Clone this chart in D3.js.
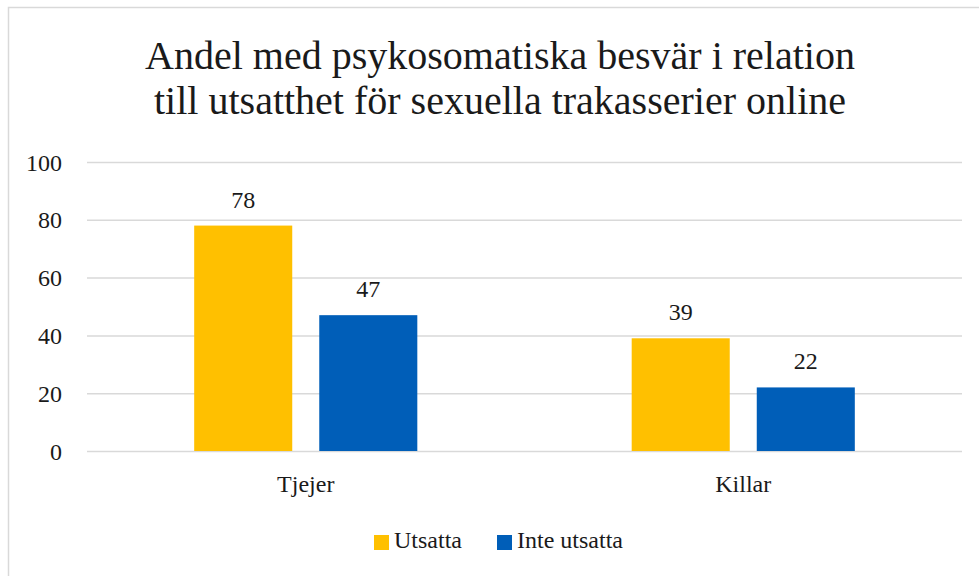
<!DOCTYPE html>
<html lang="sv">
<head>
<meta charset="utf-8">
<script src="https://cdn.jsdelivr.net/npm/d3@7"></script>
</head>
<body style="margin:0">
<div id="chart"></div>
<script>
const categories = ["Tjejer", "Killar"]
const series = ["Utsatta", "Inte utsatta"]
const utsatta = [78, 39]
const inteUtsatta = [47, 22]
const yTicks = [0, 20, 40, 60, 80, 100]
const titleLines = ["Andel med psykosomatiska besvär i relation", "till utsatthet för sexuella trakasserier online"]
const colors = ["#FFC000", "#005EB8"]

const FONT = "'Liberation Serif', Tinos, 'Times New Roman', serif"
const INK = "#1a1a1a"

const params = {
	width: 979,
	height: 576,
	left: 87,
	right: 962,
	top: 162,
	bottom: 451
}

const values = [utsatta, inteUtsatta]

const svg = d3.select("#chart")
	.append("svg")
	.attr("width", params.width)
	.attr("height", params.height)
	.attr("font-family", FONT)

// set font on a text selection
const serif = (sel, size) => sel
	.attr("font-family", FONT)
	.attr("font-size", size)
	.attr("fill", INK)

// outer frame, like the office chart area
svg.append("rect")
	.attr("x", 8.5)
	.attr("y", 7.5)
	.attr("width", 1000)
	.attr("height", 600)
	.attr("fill", "none")
	.attr("stroke", "#d9d9d9")
	.attr("stroke-width", 1.5)

svg.selectAll(".title")
	.data(titleLines)
	.join("text")
	.attr("class", "title")
	.attr("x", 500)
	.attr("y", (d, i) => 69 + i * 45)
	.attr("text-anchor", "middle")
	.call(serif, 40)
	.text(d => d)

const x0 = d3.scaleBand()
	.domain(categories)
	.range([params.left, params.right])
	.paddingInner(0.49)
	.paddingOuter(0.245)

const x1 = d3.scaleBand()
	.domain(series)
	.range([0, x0.bandwidth()])
	.paddingInner(0.216)

const y = d3.scaleLinear()
	.domain([0, 100])
	.range([params.bottom, params.top])

// y axis + gridlines
svg.append("g")
	.attr("transform", `translate(${params.left}, 0)`)
	.call(d3.axisLeft(y)
		.tickValues(yTicks)
		.tickSize(-(params.right - params.left))
		.tickPadding(25))
	.attr("font-family", FONT)
	.call(g => g.select(".domain").remove())
	.call(g => g.selectAll(".tick line").attr("stroke", "#d9d9d9").attr("stroke-width", 1.5))
	.call(g => g.selectAll(".tick text").call(serif, 24).attr("dy", "0.34em"))

// bars
const groups = svg.append("g")
	.selectAll("g")
	.data(series)
	.join("g")

groups.selectAll("rect")
	.data((s, si) => categories.map((c, ci) => ({ cat: c, s: s, si: si, v: values[si][ci] })))
	.join("rect")
	.attr("x", d => x0(d.cat) + x1(d.s))
	.attr("width", x1.bandwidth())
	.attr("y", d => y(d.v))
	.attr("height", d => y(0) - y(d.v))
	.attr("fill", d => colors[d.si])

// value labels
groups.selectAll("text")
	.data((s, si) => categories.map((c, ci) => ({ cat: c, s: s, v: values[si][ci] })))
	.join("text")
	.attr("x", d => x0(d.cat) + x1(d.s) + x1.bandwidth() / 2)
	.attr("y", d => y(d.v) - 18)
	.attr("text-anchor", "middle")
	.call(serif, 24)
	.text(d => d.v)

// category axis
svg.append("g")
	.attr("transform", `translate(0, ${params.bottom})`)
	.call(d3.axisBottom(x0).tickSize(0))
	.attr("font-family", FONT)
	.call(g => g.select(".domain").remove())
	.call(g => g.selectAll(".tick text")
		.call(serif, 24)
		.attr("y", 41)
		.attr("dy", 0))

// legend
const legendX = [374, 497]
const legend = svg.append("g")
	.selectAll("g")
	.data(series)
	.join("g")
	.attr("transform", (d, i) => `translate(${legendX[i]}, 535)`)

legend.append("rect")
	.attr("width", 15)
	.attr("height", 15)
	.attr("fill", (d, i) => colors[i])

legend.append("text")
	.attr("x", 20)
	.attr("y", 13)
	.call(serif, 24)
	.text(d => d)
</script>
</body>
</html>
